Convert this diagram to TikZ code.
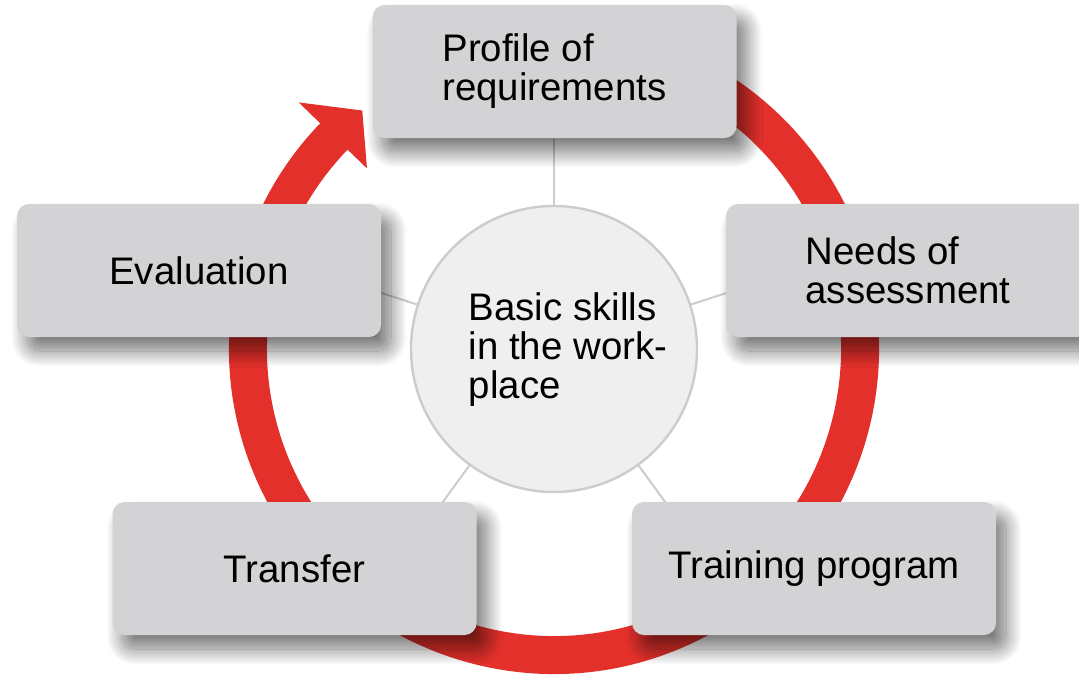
\documentclass[tikz,border=0pt]{standalone}
\usepackage{fontspec}
\setmainfont{Liberation Sans}
\usetikzlibrary{calc,shadows.blur}
\definecolor{boxgrey}{RGB}{211,210,212}
\definecolor{hubgrey}{RGB}{240,239,239}
\definecolor{linegrey}{RGB}{204,204,204}
\definecolor{ringred}{RGB}{227,48,43}

\begin{document}
\begin{tikzpicture}[x=0.5pt, y=0.5pt, font=\fontsize{19.2}{19.5}\selectfont]
	\tikzset{boite/.style={rectangle, rounded corners=6pt, fill=boxgrey, minimum width=182pt, minimum height=66.5pt, align=left, blur shadow={shadow xshift=5pt, shadow yshift=-7pt, shadow blur radius=8pt, shadow blur steps=24, shadow opacity=55}}, cercle/.style={circle, fill=hubgrey, draw=linegrey, line width=1.2pt, minimum size=143pt}, rayon/.style={draw=linegrey, line width=1pt}, anneau/.style={draw=ringred, line width=19pt}};

	\useasboundingbox (0,0) rectangle (1079,677);

	\node[cercle] (hub) at (554,328) {};
	\node[align=left, inner sep=0pt] (hubtxt) at (568,327) {Basic skills\\in the work-\\place};

	% cycle
	\draw[anneau] ($(hub.center)+(75:306)$) arc[start angle=75, end angle=-224.5, radius=306];
	\fill[ringred] ($(hub.center)+(136:355)$) -- ($(hub.center)+(128.8:306)$) -- ($(hub.center)+(136:260)$) -- cycle;

	% rayons
	\draw[rayon] (hub.90)  -- ($(hub.center)!1.55!(hub.90)$);
	\draw[rayon] (hub.18)  -- ($(hub.center)!1.55!(hub.18)$);
	\draw[rayon] (hub.306) -- ($(hub.center)!1.55!(hub.306)$);
	\draw[rayon] (hub.234) -- ($(hub.center)!1.55!(hub.234)$);
	\draw[rayon] (hub.162) -- ($(hub.center)!1.55!(hub.162)$);

	\node[boite] (prof)  at (554.5, 605.5) {Profile of\\requirements};
	\node[boite] (needs) at (  908, 406.5) {Needs of\\assessment};
	\node[boite] (train) at (  814, 108.5) {Training program};
	\node[boite] (trans) at (294.5, 108.5) {Transfer};
	\node[boite] (eval)  at (  199, 406.5) {Evaluation};

\end{tikzpicture}
\end{document}
